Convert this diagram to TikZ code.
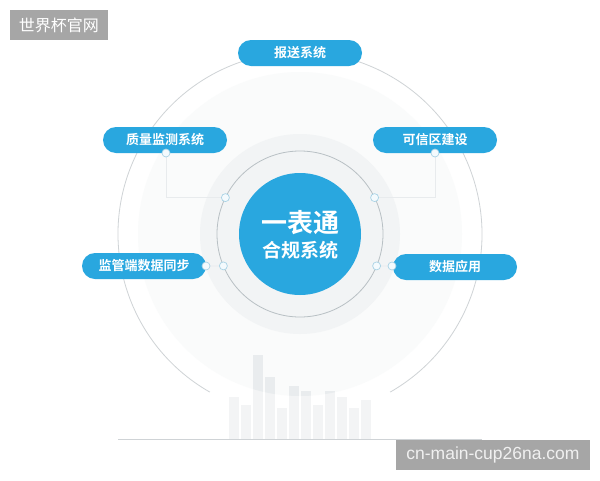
\documentclass[tikz,border=0pt]{standalone}
\usepackage{fontspec}
\setmainfont{Liberation Sans}
\newfontfamily\cjk{Noto Sans CJK SC}
\newfontfamily\cjkbold{Noto Sans CJK SC Bold}
\usetikzlibrary{calc}
\definecolor{mainblue}{HTML}{29A7DF}
\definecolor{faintdisk}{HTML}{FAFBFB}
\definecolor{lightdisk}{HTML}{F2F4F5}
\definecolor{ringgray}{HTML}{B8C0C4}
\definecolor{outergray}{HTML}{CFD3D6}
\definecolor{conngray}{HTML}{E8EBED}
\definecolor{dotedge}{HTML}{A9D3E6}
\definecolor{dotfill}{HTML}{F4FAFD}
\definecolor{barlight}{HTML}{F3F4F5}
\definecolor{bardark}{HTML}{E9ECEE}
\definecolor{wmgray}{HTML}{A6A6A6}
\tikzset{
  pill/.style={draw=none, fill=mainblue, rounded corners=13pt, minimum width=124pt, minimum height=26pt, inner sep=0pt, text=white, font=\cjkbold\fontsize{13}{15}\selectfont},
  ringdot/.style={circle, draw=dotedge, fill=dotfill, line width=0.7pt, minimum size=8pt, inner sep=0pt},
  conn/.style={draw=conngray, line width=0.8pt},
  wmbox/.style={fill=wmgray, inner sep=0pt, text=white}
}
\begin{document}
\begin{tikzpicture}[x=1pt,y=-1pt]
\useasboundingbox (0,0) rectangle (600,480);
\fill[white] (0,0) rectangle (600,480);
\coordinate (c) at (300,234);
% faint big disk
\fill[faintdisk] (c) circle[radius=162];
% bars
\foreach \xl/\yt in {229/397,241/405,253/355,265/377,277/408,289/386,301/391,313/405,325/391,337/397,349/408,361/400}{
  \fill[barlight] (\xl,439) rectangle (\xl+10,\yt);
}
\begin{scope}
\clip (c) circle[radius=162];
\foreach \xl/\yt in {229/397,241/405,253/355,265/377,277/408,289/386,301/391,313/405,325/391,337/397,349/408,361/400}{
  \fill[bardark] (\xl,439) rectangle (\xl+10,\yt);
}
\end{scope}
% light disk
\fill[lightdisk] (c) circle[radius=100];
% outer arc
\draw[outergray, line width=0.8pt] ($(c)+(119.7:182)$) arc[start angle=119.7, end angle=420.3, radius=182];
% baseline
\draw[outergray, line width=1pt] (118,439) -- (482,439);
% inner ring
\draw[ringgray, line width=0.8pt] (c) circle[radius=83];
% central circle
\node[circle, fill=mainblue, minimum size=122pt, inner sep=0pt] (core) at (c) {};
\node[text=white, font=\cjkbold\fontsize{26}{28}\selectfont] (t1) at (300,223) {一表通};
\node[text=white, font=\cjkbold\fontsize{19}{21}\selectfont] (t2) at (300,250) {合规系统};
% boxes
\node[pill] (bs) at (300,53) {报送系统};
\node[pill] (zl) at (165,140) {质量监测系统};
\node[pill] (kx) at (435,140) {可信区建设};
\node[pill] (jg) at (144,266) {监管端数据同步};
\node[pill] (sj) at (455,267) {数据应用};
% dot positions
\coordinate (r1) at ($(c)+(206:83)$);
\coordinate (r2) at ($(c)+(334:83)$);
\coordinate (r3) at ($(c)+(157.4:83)$);
\coordinate (r4) at ($(c)+(22.6:83)$);
\coordinate (b1) at (166,153);
\coordinate (b2) at (435,153);
\coordinate (b3) at (206,266);
\coordinate (b4) at (392,266);
% connectors
\draw[conn] (b1) |- (r1);
\draw[conn] (b2) |- (r2);
\draw[conn] (b3) -- (r3);
\draw[conn] (b4) -- (r4);
% dots
\node[ringdot] (d1) at (r1) {};
\node[ringdot] (d2) at (r2) {};
\node[ringdot] (d3) at (r3) {};
\node[ringdot] (d4) at (r4) {};
\node[ringdot] (e1) at (b1) {};
\node[ringdot] (e2) at (b2) {};
\node[ringdot] (e3) at (b3) {};
\node[ringdot] (e4) at (b4) {};
% watermarks
\node[wmbox, minimum width=98pt, minimum height=30pt, font=\cjk\fontsize{16}{18}\selectfont] (wm1) at (59,25) {世界杯官网};
\node[wmbox, minimum width=194pt, minimum height=30pt, font=\fontsize{17.5}{19}\selectfont, text=white!94!black] (wm2) at (493,455) {cn-main-cup26na.com};
\end{tikzpicture}
\end{document}
